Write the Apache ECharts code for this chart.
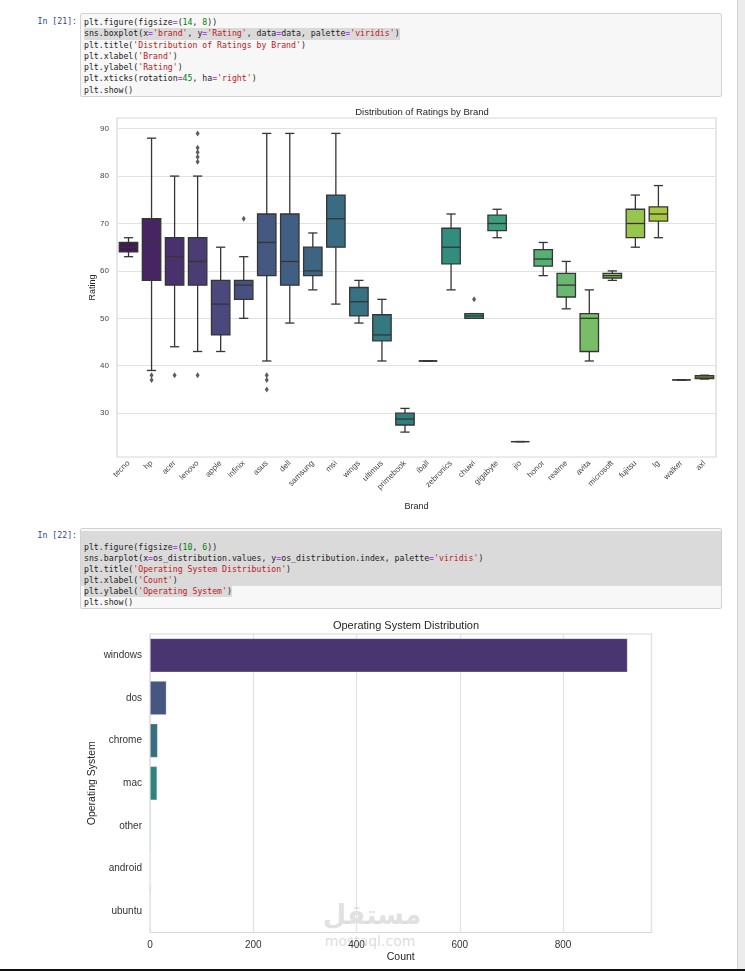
<!DOCTYPE html>
<html><head><meta charset="utf-8">
<script src="https://cdn.jsdelivr.net/npm/echarts@6/dist/echarts.min.js"></script>
<style>
html,body{margin:0;padding:0;background:#fff;width:745px;height:971px;overflow:hidden;}
#wrap{position:relative;width:745px;height:971px;}
.prompt{position:absolute;left:0;width:77px;text-align:right;font-family:"DejaVu Sans Mono",monospace;font-size:8.2px;color:#303f9f;line-height:11.3px;}
.code{position:absolute;left:80px;width:642px;background:#f7f7f7;border:1px solid #d2d2d2;border-radius:2px;font-family:"DejaVu Sans Mono",monospace;font-size:8.2px;color:#222;white-space:pre;box-sizing:border-box;}
.ln{display:block;padding-left:3px;}
.c1 .ln{height:11.3px;line-height:11.3px;}
.c2 .ln{height:11px;line-height:11px;}
.op{color:#aa22ff}.num{color:#008000}.str{color:#ba2121}
.sel{background:#dadada}
.selp{background:#dadada;display:inline-block;}
#wm1{position:absolute;left:302px;width:140px;top:899px;text-align:center;font-family:"DejaVu Sans",sans-serif;font-weight:bold;font-size:27px;color:rgba(150,150,150,0.3);line-height:32px;}
#wm2{position:absolute;left:300px;width:140px;top:933px;text-align:center;font-family:"DejaVu Sans",sans-serif;font-size:14px;color:rgba(150,150,150,0.35);line-height:16px;}
#chart{position:absolute;left:0;top:0;width:745px;height:971px;}
#strip{position:absolute;left:737px;top:0;width:8px;height:971px;background:#ececec;border-left:1px solid #d4d4d4;box-sizing:border-box;}
#bottombar{position:absolute;left:0;top:969px;width:745px;height:2px;background:#111;}
</style></head>
<body><div id="wrap">
<div class="prompt" style="top:16px;">In [21]:</div>
<div class="code c1" style="top:13px;height:84px;padding-top:3px;"><span class="ln">plt.figure(figsize<span class="op">=</span>(<span class="num">14</span>, <span class="num">8</span>))</span><span class="ln"><span class="selp">sns.boxplot(x<span class="op">=</span><span class="str">'brand'</span>, y<span class="op">=</span><span class="str">'Rating'</span>, data<span class="op">=</span>data, palette<span class="op">=</span><span class="str">'viridis'</span>)</span></span><span class="ln">plt.title(<span class="str">'Distribution of Ratings by Brand'</span>)</span><span class="ln">plt.xlabel(<span class="str">'Brand'</span>)</span><span class="ln">plt.ylabel(<span class="str">'Rating'</span>)</span><span class="ln">plt.xticks(rotation<span class="op">=</span><span class="num">45</span>, ha<span class="op">=</span><span class="str">'right'</span>)</span><span class="ln">plt.show()</span></div>
<div class="prompt" style="top:529.5px;">In [22]:</div>
<div class="code c2" style="top:528px;height:81px;padding-top:2px;"><span class="ln sel"> </span><span class="ln sel">plt.figure(figsize<span class="op">=</span>(<span class="num">10</span>, <span class="num">6</span>))</span><span class="ln sel">sns.barplot(x<span class="op">=</span>os_distribution.values, y<span class="op">=</span>os_distribution.index, palette<span class="op">=</span><span class="str">'viridis'</span>)</span><span class="ln sel">plt.title(<span class="str">'Operating System Distribution'</span>)</span><span class="ln sel">plt.xlabel(<span class="str">'Count'</span>)</span><span class="ln"><span class="selp">plt.ylabel(<span class="str">'Operating System'</span>)</span></span><span class="ln">plt.show()</span></div>
<div id="wm1">مستقل</div>
<div id="wm2">mostaql.com</div>
<div id="chart"></div>
<div id="strip"></div>
<div id="bottombar"></div>
</div>
<script>
// ---------- Data: chart 1 (box plot of Rating by brand) ----------
const brands = ['tecno','hp','acer','lenovo','apple','infinix','asus','dell','samsung','msi','wings','ultimus','primebook','iball','zebronics','chuwi','gigabyte','jio','honor','realme','avita','microsoft','fujitsu','lg','walker','axl'];
const ratingMin    = [63, 39, 44, 43, 43,   50, 41, 49, 56, 53, 49,   41,    26,    41, 56,   50, 67,    24, 59, 52,   41, 58,   65, 67,   37, 37.2];
const ratingQ1     = [64, 58, 57, 57, 46.5, 54, 59, 57, 59, 65, 50.5, 45.25, 27.5,  41, 61.5, 50, 68.5,  24, 61, 54.5, 43, 58.5, 67, 70.5, 37, 37.3];
const ratingMedian = [65, 66, 63, 62, 53,   57, 66, 62, 60, 71, 53.5, 46.5,  28.75, 41, 65,   50.5, 70,  24, 62.5, 57, 50, 59,   70, 72,   37, 37.6];
const ratingQ3     = [66, 71, 67, 67, 58,   58, 72, 72, 65, 76, 56.5, 50.75, 30,    41, 69,   51, 71.75, 24, 64.5, 59.5, 51, 59.5, 73, 73.5, 37, 37.9];
const ratingMax    = [67, 88, 80, 80, 65,   63, 89, 89, 68, 89, 58,   54,    31,    41, 72,   51, 73,    24, 66, 62,   56, 60,   76, 78,   37, 38];
const outlierBrands = ['hp','hp','acer','lenovo','lenovo','lenovo','lenovo','lenovo','lenovo','infinix','asus','asus','asus','chuwi'];
const outlierValues = [38, 37, 38, 89, 86, 85, 84, 83, 38, 71, 38, 37, 35, 54];
const ratingTicks = [30, 40, 50, 60, 70, 80, 90];

// ---------- Data: chart 2 (operating system counts) ----------
const osNames  = ['windows','dos','chrome','mac','other','android','ubuntu'];
const osCounts = [925, 32, 15, 14, 2, 1, 1];

// ---------- viridis palette (seaborn style, desaturated 0.75) ----------
const VIR = ['#440154','#482475','#414487','#355f8d','#2a788e','#21918c','#22a884','#44bf70','#7ad151','#bddf26','#fde725'];
function h2r(h){return [parseInt(h.slice(1,3),16),parseInt(h.slice(3,5),16),parseInt(h.slice(5,7),16)];}
function viridis(t){const p=t*10,i=Math.min(9,Math.floor(p)),f=p-i;const a=h2r(VIR[i]),b=h2r(VIR[i+1]);return a.map((v,k)=>(v+(b[k]-v)*f)/255);}
function rgb2hls(r,g,b){const mx=Math.max(r,g,b),mn=Math.min(r,g,b);const l=(mx+mn)/2;if(mx===mn)return [0,l,0];const d=mx-mn;const s=l<=0.5?d/(mx+mn):d/(2-mx-mn);let h;const rc=(mx-r)/d,gc=(mx-g)/d,bc=(mx-b)/d;if(r===mx)h=bc-gc;else if(g===mx)h=2+rc-bc;else h=4+gc-rc;h=((h/6)%1+1)%1;return [h,l,s];}
function v(m1,m2,h){h=((h%1)+1)%1;if(h<1/6)return m1+(m2-m1)*h*6;if(h<0.5)return m2;if(h<2/3)return m1+(m2-m1)*(2/3-h)*6;return m1;}
function hls2rgb(h,l,s){if(s===0)return [l,l,l];const m2=l<=0.5?l*(1+s):l+s-l*s;const m1=2*l-m2;return [v(m1,m2,h+1/3),v(m1,m2,h),v(m1,m2,h-1/3)];}
function palette(n){const out=[];for(let i=0;i<n;i++){const c=viridis((i+1)/(n+1));const hls=rgb2hls(c[0],c[1],c[2]);const r=hls2rgb(hls[0],hls[1],hls[2]*0.75);out.push('rgb('+r.map(x=>Math.round(x*255)).join(',')+')');}return out;}
const brandColors = palette(brands.length);
const osColors = palette(osNames.length);

const LINE = '#353535';
const FONT = '"Liberation Sans", Arial, sans-serif';

const boxData = brands.map((b,i)=>[i, ratingMin[i], ratingQ1[i], ratingMedian[i], ratingQ3[i], ratingMax[i]]);

const chart = echarts.init(document.getElementById('chart'), null, {renderer:'canvas'});
chart.setOption({
  animation:false,
  textStyle:{fontFamily:FONT},
  title:[
    {text:'Distribution of Ratings by Brand', left:417, top:102, textAlign:'center',
     textStyle:{fontSize:9.5, fontWeight:'normal', color:'#262626', fontFamily:FONT}},
    {text:'Operating System Distribution', left:401, top:615, textAlign:'center',
     textStyle:{fontSize:11, fontWeight:'normal', color:'#262626', fontFamily:FONT}}
  ],
  grid:[
    {left:117, top:118, width:599, height:339, show:true, borderColor:'#d8d8d8', borderWidth:1.2, backgroundColor:'transparent', containLabel:false, outerBoundsMode:'none'},
    {left:150, top:634, width:501.5, height:298.5, show:true, borderColor:'#d8d8d8', borderWidth:1.2, backgroundColor:'transparent', containLabel:false, outerBoundsMode:'none'}
  ],
  xAxis:[
    {gridIndex:0, type:'category', data:brands, boundaryGap:true,
     axisLine:{show:false}, axisTick:{show:false},
     axisLabel:{interval:0, rotate:45, fontSize:8, color:'#444', margin:5, fontFamily:FONT},
     splitLine:{show:false},
     name:'Brand', nameLocation:'middle', nameGap:45, nameMoveOverlap:false,
     nameTextStyle:{fontSize:9, color:'#262626', fontFamily:FONT}},
    {gridIndex:1, type:'value', min:0, max:971.25, interval:200,
     axisLine:{show:false}, axisTick:{show:false},
     axisLabel:{fontSize:10, color:'#333', margin:8, showMaxLabel:false, fontFamily:FONT},
     splitLine:{show:true, lineStyle:{color:'#e2e2e2', width:1.2}},
     name:'Count', nameLocation:'middle', nameGap:19, nameMoveOverlap:false,
     nameTextStyle:{fontSize:10.5, color:'#262626', fontFamily:FONT}}
  ],
  yAxis:[
    {gridIndex:0, type:'value', min:20.75, max:92.25,
     axisLine:{show:false},
     axisTick:{show:false, customValues:ratingTicks},
     axisLabel:{customValues:ratingTicks, fontSize:8, color:'#444', margin:8, fontFamily:FONT},
     splitLine:{show:true, lineStyle:{color:'#e2e2e2', width:1.2}},
     name:'Rating', nameLocation:'middle', nameGap:20, nameMoveOverlap:false,
     nameTextStyle:{fontSize:9, color:'#262626', fontFamily:FONT}},
    {gridIndex:1, type:'category', data:osNames, inverse:true, boundaryGap:true,
     axisLine:{show:false}, axisTick:{show:false},
     axisLabel:{fontSize:10, color:'#333', margin:8, fontFamily:FONT},
     splitLine:{show:false},
     name:'Operating System', nameLocation:'middle', nameGap:52, nameMoveOverlap:false,
     nameTextStyle:{fontSize:10.5, color:'#262626', fontFamily:FONT}}
  ],
  series:[
    {type:'custom', xAxisIndex:0, yAxisIndex:0, data:boxData,
     encode:{x:0, y:[1,2,3,4,5]},
     renderItem:function(params, api){
       const idx = api.value(0);
       const bw = api.size([1,0])[0]*0.8;
       const cx = api.coord([idx, api.value(3)])[0];
       const yMin = api.coord([idx, api.value(1)])[1];
       const yQ1  = api.coord([idx, api.value(2)])[1];
       const yMed = api.coord([idx, api.value(3)])[1];
       const yQ3  = api.coord([idx, api.value(4)])[1];
       const yMax = api.coord([idx, api.value(5)])[1];
       const lw = 1.3;
       const st = {stroke:LINE, lineWidth:lw};
       const cw = bw/4;
       const fill = brandColors[params.dataIndex];
       return {type:'group', children:[
         {type:'line', shape:{x1:cx,y1:yMax,x2:cx,y2:yQ3}, style:st},
         {type:'line', shape:{x1:cx,y1:yQ1,x2:cx,y2:yMin}, style:st},
         {type:'line', shape:{x1:cx-cw,y1:yMax,x2:cx+cw,y2:yMax}, style:st},
         {type:'line', shape:{x1:cx-cw,y1:yMin,x2:cx+cw,y2:yMin}, style:st},
         {type:'rect', shape:{x:cx-bw/2,y:yQ3,width:bw,height:Math.max(0,yQ1-yQ3)}, style:{fill:fill, stroke:LINE, lineWidth:lw}},
         {type:'line', shape:{x1:cx-bw/2,y1:yMed,x2:cx+bw/2,y2:yMed}, style:st}
       ]};
     }},
    {type:'scatter', xAxisIndex:0, yAxisIndex:0,
     data:outlierBrands.map((b,i)=>[b, outlierValues[i]]),
     symbol:'diamond', symbolSize:[4,6],
     itemStyle:{color:LINE}},
    {type:'bar', xAxisIndex:1, yAxisIndex:1, barWidth:'80%',
     data:osCounts.map((c,i)=>({value:c, itemStyle:{color:osColors[i], borderColor:'rgba(255,255,255,0.35)', borderWidth:0.8}}))}
  ]
});
</script>
</body></html>
